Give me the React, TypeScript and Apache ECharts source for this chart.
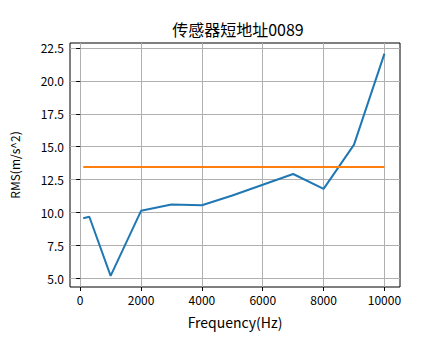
import React, { useEffect, useRef } from "react";
import * as echarts from "echarts";

const title = "传感器短地址0089";
const xName = "Frequency(Hz)";
const yName = "RMS(m/s^2)";
const freqs = [100, 300, 1000, 2000, 3000, 4000, 5000, 6000, 7000, 8000, 9000, 10000];
const rms = [9.55, 9.67, 5.17, 10.12, 10.6, 10.55, 11.29, 12.1, 12.92, 11.79, 15.15, 22.07];
const thresholdX = [100, 10000];
const thresholdValue = 13.45;
const xTicks = [0, 2000, 4000, 6000, 8000, 10000];
const yTicks = [5, 7.5, 10, 12.5, 15, 17.5, 20, 22.5];

const FONT = "'Noto Sans CJK SC', sans-serif";

export default function App() {
  const ref = useRef<HTMLDivElement>(null);
  useEffect(() => {
    if (!ref.current) return;
    const chart = echarts.init(ref.current, null, { renderer: "svg" });
    chart.setOption({
      animation: false,
      backgroundColor: "#ffffff",
      title: {
        text: title,
        left: 233,
        top: 16,
        textAlign: "center",
        textStyle: { fontFamily: FONT, fontSize: 16, fontWeight: "normal", color: "#000" },
      },
      grid: {
        left: 67,
        right: 44,
        top: 43,
        bottom: 72,
        show: true,
        borderColor: "#000",
        borderWidth: 1,
        backgroundColor: "transparent",
        containLabel: false,
      },
      xAxis: {
        type: "value",
        min: -335,
        max: 10511,
        name: xName,
        nameLocation: "middle",
        nameGap: 28,
        nameTextStyle: { fontFamily: FONT, fontSize: 14, color: "#000" },
        axisLine: { show: false },
        axisTick: { show: true, length: 4, inside: false, customValues: xTicks, lineStyle: { color: "#000", width: 1 } },
        axisLabel: {
          customValues: xTicks,
          fontFamily: FONT,
          fontSize: 12,
          color: "#000",
          margin: 6,
          formatter: (v: number) => String(v),
        },
        splitLine: { show: true, lineStyle: { color: "#b0b0b0", width: 1 } },
      },
      yAxis: {
        type: "value",
        min: 4.33,
        max: 22.88,
        name: yName,
        nameLocation: "middle",
        nameGap: 50,
        nameRotate: 90,
        nameTextStyle: { fontFamily: FONT, fontSize: 12, color: "#000" },
        axisLine: { show: false },
        axisTick: { show: true, length: 4, inside: false, customValues: yTicks, lineStyle: { color: "#000", width: 1 } },
        axisLabel: {
          customValues: yTicks,
          fontFamily: FONT,
          fontSize: 12,
          color: "#000",
          margin: 6,
          formatter: (v: number) => v.toFixed(1),
        },
        splitLine: { show: true, lineStyle: { color: "#b0b0b0", width: 1 } },
      },
      series: [
        {
          type: "line",
          data: freqs.map((f, i) => [f, rms[i]]),
          showSymbol: false,
          symbol: "none",
          lineStyle: { color: "#1f77b4", width: 2 },
          z: 3,
        },
        {
          type: "line",
          data: thresholdX.map((f) => [f, thresholdValue]),
          showSymbol: false,
          symbol: "none",
          lineStyle: { color: "#ff7f0e", width: 2 },
          z: 3,
        },
      ],
    });
    return () => chart.dispose();
  }, []);
  return <div ref={ref} style={{ width: 444, height: 359, position: "absolute", left: 0, top: 0 }} />;
}
